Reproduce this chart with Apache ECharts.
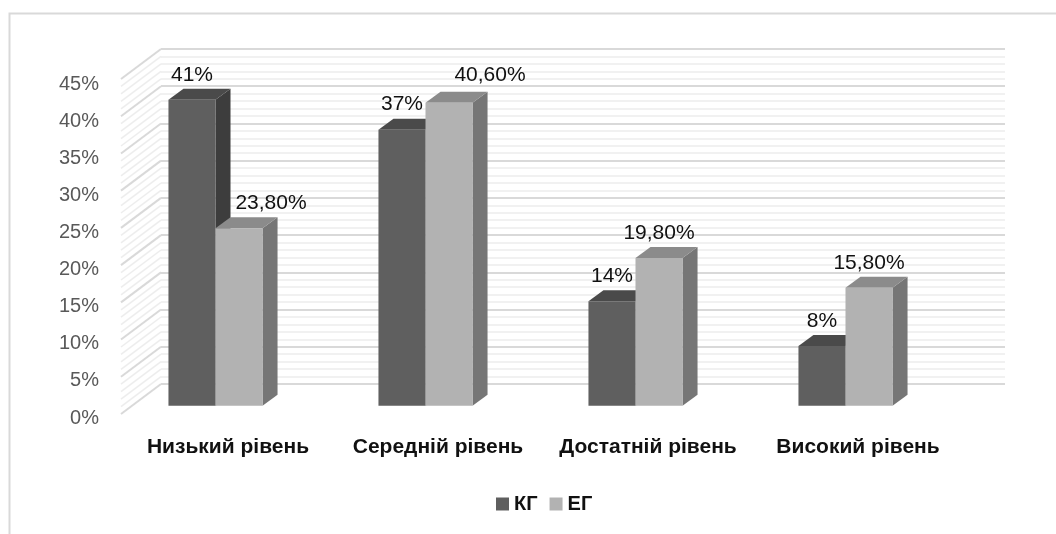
<!DOCTYPE html>
<html>
<head>
<meta charset="utf-8">
<script src="https://cdn.jsdelivr.net/npm/echarts@6/dist/echarts.min.js"></script>
<style>
html,body{margin:0;padding:0;background:#fff;}
#chart{width:1056px;height:534px;}
</style>
</head>
<body>
<div id="chart"></div>
<script>
// ---- data ----
const categories = ['Низький рівень', 'Середній рівень', 'Достатній рівень', 'Високий рівень'];
const seriesNames = ['КГ', 'ЕГ'];
const kgValues = [41, 37, 14, 8];
const egValues = [23.8, 40.6, 19.8, 15.8];
const yTickLabels = ['0%', '5%', '10%', '15%', '20%', '25%', '30%', '35%', '40%', '45%'];

// ---- style ----
const FONT = 'Liberation Sans, Arial, sans-serif';
const faces = [
  { front: '#5f5f5f', top: '#4a4a4a', side: '#3d3d3d' },
  { front: '#b2b2b2', top: '#8b8b8b', side: '#767676' }
];
const DEPTH_X = 15, DEPTH_Y = -11;
const BAR_FRAC = 0.224;
// manual label nudges (category index -> {dx, dy}) for ЕГ labels
const egLabelNudge = { 0: { dx: 32, dy: 0 }, 1: { dx: 41, dy: -3 } };

function fmt(s, v) {
  if (s === 0) return v + '%';
  return v.toFixed(2).replace('.', ',') + '%';
}

function makeBarRender(s) {
  return function (params, api) {
    const idx = api.value(0);
    const val = api.value(1);
    const top = api.coord([idx, val]);
    const base = api.coord([idx, 0]);
    const cw = api.size([1, 0])[0];
    const bw = cw * BAR_FRAC;
    const x0 = top[0] - bw + s * bw;
    const x1 = x0 + bw;
    const yT = top[1], yB = base[1];
    const f = faces[s];
    const nudge = (s === 1 && egLabelNudge[idx]) ? egLabelNudge[idx] : { dx: 0, dy: 0 };
    return {
      type: 'group',
      children: [
        { type: 'polygon', shape: { points: [[x1, yT], [x1 + DEPTH_X, yT + DEPTH_Y], [x1 + DEPTH_X, yB + DEPTH_Y], [x1, yB]] }, style: { fill: f.side } },
        { type: 'polygon', shape: { points: [[x0, yT], [x0 + DEPTH_X, yT + DEPTH_Y], [x1 + DEPTH_X, yT + DEPTH_Y], [x1, yT]] }, style: { fill: f.top } },
        { type: 'rect', shape: { x: x0, y: yT, width: bw, height: yB - yT }, style: { fill: f.front } },
        { type: 'text', style: { text: fmt(s, val), x: (x0 + x1) / 2 + nudge.dx, y: yT - 25 + nudge.dy, align: 'center', verticalAlign: 'middle', fill: '#111', font: '21px ' + FONT } }
      ]
    };
  };
}

function sideWallRender(params, api) {
  const children = [];
  const maxV = 45;
  for (let v = 0; v <= maxV; v++) {
    const p = api.coord([0, v]);
    const major = v % 5 === 0;
    children.push({
      type: 'line',
      shape: { x1: p[0] - 40, y1: p[1] + 30, x2: p[0], y2: p[1] },
      style: { stroke: major ? '#d9d9d9' : '#ededed', lineWidth: major ? 2 : 1.5 }
    });
  }
  return { type: 'group', children };
}

const chart = echarts.init(document.getElementById('chart'));
chart.setOption({
  animation: false,
  backgroundColor: '#fff',
  graphic: [
    { type: 'rect', z: -10, shape: { x: 9.5, y: 13.5, width: 1100, height: 600 }, style: { fill: 'none', stroke: '#d9d9d9', lineWidth: 2 } }
  ],
  legend: {
    data: seriesNames,
    left: 491,
    top: 489,
    icon: 'rect',
    itemWidth: 13,
    itemHeight: 13,
    itemGap: 12,
    textStyle: { fontFamily: FONT, fontWeight: 'bold', fontSize: 20, color: '#111' }
  },
  grid: [
    { left: 110.5, width: 840, top: 70, height: 335.7 },   // bars frame
    { left: 123, width: 840, top: 84, height: 334 },        // label frame
    { left: 161, width: 844, top: 49, height: 335 }         // back wall
  ],
  xAxis: [
    { gridIndex: 0, type: 'category', data: categories, show: false },
    { gridIndex: 1, type: 'category', data: categories, axisLine: { show: false }, axisTick: { show: false },
      axisLabel: { margin: 19, color: '#111', fontFamily: FONT, fontWeight: 'bold', fontSize: 21, interval: 0 } },
    { gridIndex: 2, type: 'value', min: 0, max: 1, show: false }
  ],
  yAxis: [
    { gridIndex: 0, type: 'value', min: 0, max: 45, show: false },
    { gridIndex: 1, type: 'value', min: 0, max: 45, interval: 5, axisLine: { show: false }, axisTick: { show: false }, splitLine: { show: false },
      axisLabel: { margin: 24, color: '#595959', fontFamily: FONT, fontSize: 20, formatter: function (v) { return yTickLabels[Math.round(v / 5)]; } } },
    { gridIndex: 2, type: 'value', min: 0, max: 45, interval: 5, axisLine: { show: false }, axisTick: { show: false }, axisLabel: { show: false },
      splitLine: { show: true, lineStyle: { color: '#d9d9d9', width: 2 } },
      minorTick: { show: false, splitNumber: 5 },
      minorSplitLine: { show: true, lineStyle: { color: '#ededed', width: 1.5 } } }
  ],
  series: [
    { type: 'custom', name: 'wall', xAxisIndex: 2, yAxisIndex: 2, z: 1, silent: true, data: [[0, 0]], renderItem: sideWallRender },
    { type: 'custom', name: seriesNames[0], xAxisIndex: 0, yAxisIndex: 0, z: 2, itemStyle: { color: faces[0].front },
      data: kgValues.map(function (v, i) { return [i, v]; }), renderItem: makeBarRender(0) },
    { type: 'custom', name: seriesNames[1], xAxisIndex: 0, yAxisIndex: 0, z: 3, itemStyle: { color: faces[1].front },
      data: egValues.map(function (v, i) { return [i, v]; }), renderItem: makeBarRender(1) }
  ]
});
</script>
</body>
</html>
